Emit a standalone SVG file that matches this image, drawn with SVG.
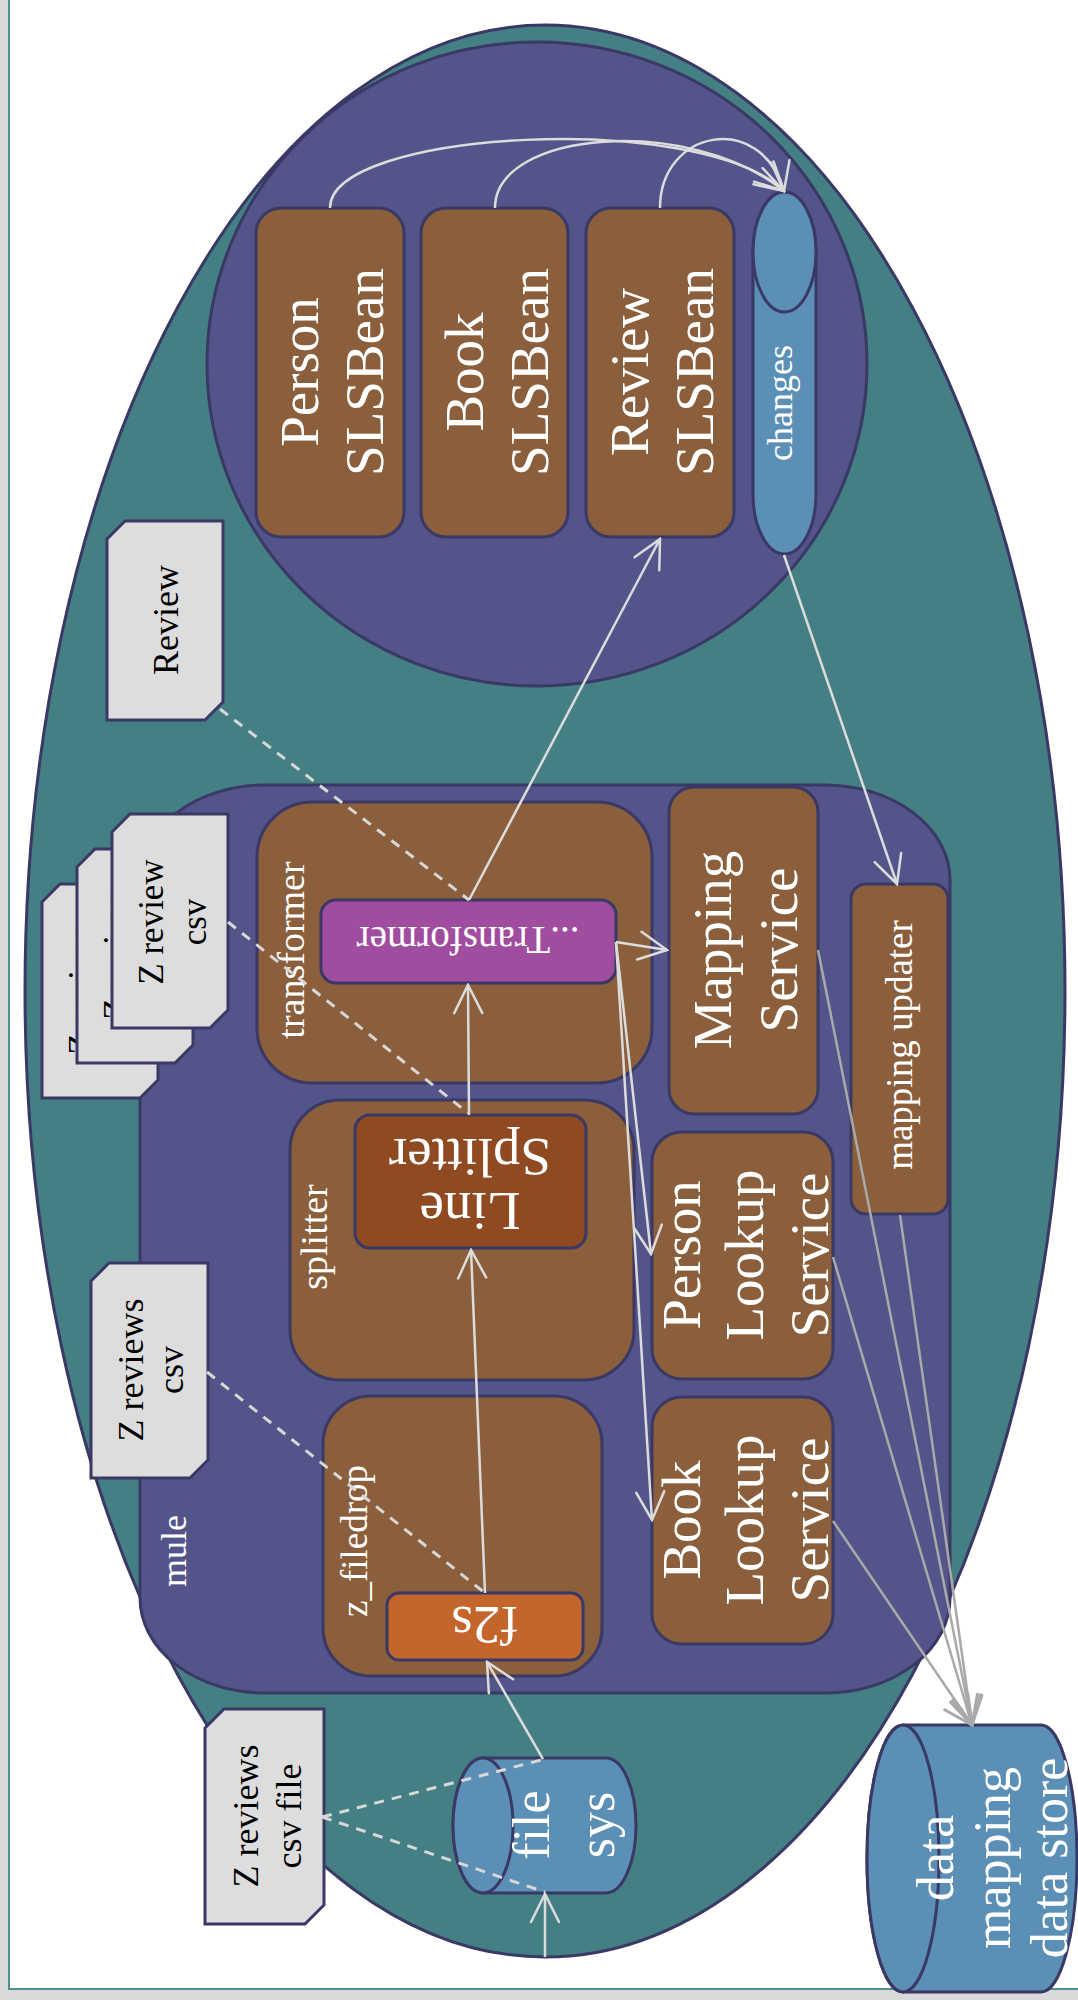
<svg xmlns="http://www.w3.org/2000/svg" width="1078" height="2000" viewBox="0 0 1078 2000">
<style>
.ln{fill:none;stroke:#3a3865;stroke-width:3}
.teal{fill:#447f84;stroke:#3a3865;stroke-width:3}
.purp{fill:#53548a;stroke:#3a3865;stroke-width:3}
.brown{fill:#8b5e3c;stroke:#3a3865;stroke-width:3}
.doc{fill:#dddddd;stroke:#3a3865;stroke-width:3}
.cyl{fill:#5b8fb5;stroke:#3a3865;stroke-width:3}
.t{font-family:"Liberation Serif","Times New Roman",serif;fill:#ffffff;text-anchor:middle}
.tb{font-family:"Liberation Serif","Times New Roman",serif;fill:#000000;text-anchor:middle}
.w{fill:none;stroke:#dcdcdc;stroke-width:2.5}
.g{fill:none;stroke:#a9a9a9;stroke-width:2.5}
.d{fill:none;stroke:#d8d8d8;stroke-width:3;stroke-dasharray:10 8}
</style>
<defs>
<marker id="aw" viewBox="0 0 32 32" refX="30" refY="16" markerWidth="32" markerHeight="32" orient="auto" markerUnits="userSpaceOnUse">
<path d="M2,2 L30,16 L2,30" fill="none" stroke="#dcdcdc" stroke-width="2.5" stroke-linecap="round"/>
</marker>
<marker id="ag" viewBox="0 0 32 32" refX="30" refY="16" markerWidth="32" markerHeight="32" orient="auto" markerUnits="userSpaceOnUse">
<path d="M2,2 L30,16 L2,30" fill="none" stroke="#a9a9a9" stroke-width="3" stroke-linecap="round"/>
</marker>
</defs>
<rect x="0" y="0" width="1078" height="2000" fill="#d9d9d9"/>
<rect x="9" y="-10" width="1080" height="1999" fill="#ffffff" stroke="#4f9090" stroke-width="2"/>

<g id="outer">
<ellipse class="teal" cx="545" cy="991" rx="520" ry="966"/>
</g>

<g id="beans">
<ellipse class="purp" cx="537" cy="364" rx="330" ry="322"/>
</g>

<g id="person-bean">
<rect class="brown" x="256" y="208" width="148" height="329" rx="25"/>
<text class="t" font-size="55" transform="translate(318,372) rotate(-90)"><tspan x="0" y="0">Person</tspan><tspan x="0" y="65">SLSBean</tspan></text>
</g>
<g id="book-bean">
<rect class="brown" x="421" y="208" width="147" height="329" rx="25"/>
<text class="t" font-size="55" transform="translate(483,372) rotate(-90)"><tspan x="0" y="0">Book</tspan><tspan x="0" y="65">SLSBean</tspan></text>
</g>
<g id="review-bean">
<rect class="brown" x="586" y="208" width="148" height="329" rx="25"/>
<text class="t" font-size="55" transform="translate(648,372) rotate(-90)"><tspan x="0" y="0">Review</tspan><tspan x="0" y="65">SLSBean</tspan></text>
</g>
<g id="changes">
<path class="cyl" d="M753,252 L753,494 A31.5,60 0 0 0 816,494 L816,252 A31.5,60 0 0 0 753,252 Z"/>
<ellipse class="cyl" cx="784.5" cy="252" rx="31.5" ry="60"/>
<text class="t" font-size="36" transform="translate(792,403) rotate(-90)">changes</text>
</g>

<g id="mule">
<rect class="purp" x="140" y="785" width="810" height="908" rx="125" ry="95"/>
<text class="t" font-size="36" transform="translate(186,1551) rotate(-90)">mule</text>
</g>

<g id="z_filedrop">
<rect class="brown" x="323" y="1396" width="279" height="280" rx="48"/>
<text class="t" font-size="37" transform="translate(367,1541) rotate(-90)">z_filedrop</text>
</g>
<g id="f2s">
<rect x="387" y="1593" width="196" height="67" rx="12" fill="#c4652c" stroke="#3a3865" stroke-width="3"/>
<text class="t" font-size="55" transform="translate(485,1626) rotate(180)" y="19">f2s</text>
</g>

<g id="splitter">
<rect class="brown" x="290" y="1100" width="344" height="280" rx="50"/>
<text class="t" font-size="38" transform="translate(327,1237) rotate(-90)">splitter</text>
</g>
<g id="line-splitter">
<rect x="355" y="1115" width="231" height="133" rx="15" fill="#8f4a22" stroke="#3a3865" stroke-width="3"/>
<text class="t" font-size="55" transform="translate(470,1181) rotate(180)"><tspan x="0" y="-12">Line</tspan><tspan x="0" y="42">Splitter</tspan></text>
</g>

<g id="transformer">
<rect class="brown" x="257" y="802" width="395" height="281" rx="55"/>
<text class="t" font-size="38" transform="translate(304,950) rotate(-90)">transformer</text>
</g>
<g id="transformer-inner">
<rect x="321" y="900" width="295" height="83" rx="15" fill="#a04da0" stroke="#3a3865" stroke-width="3"/>
<text class="t" font-size="39" transform="translate(468,941.5) rotate(180)" y="15">...Transformer</text>
</g>

<g id="mapping-service">
<rect class="brown" x="669" y="787" width="149" height="327" rx="25"/>
<text class="t" font-size="55" transform="translate(731,950) rotate(-90)"><tspan x="0" y="0">Mapping</tspan><tspan x="0" y="66">Service</tspan></text>
</g>
<g id="person-lookup">
<rect class="brown" x="652" y="1132" width="181" height="247" rx="30"/>
<text class="t" font-size="55" transform="translate(700,1255) rotate(-90)"><tspan x="0" y="0">Person</tspan><tspan x="0" y="63">Lookup</tspan><tspan x="0" y="128">Service</tspan></text>
</g>
<g id="book-lookup">
<rect class="brown" x="652" y="1397" width="181" height="247" rx="30"/>
<text class="t" font-size="55" transform="translate(700,1520) rotate(-90)"><tspan x="0" y="0">Book</tspan><tspan x="0" y="63">Lookup</tspan><tspan x="0" y="128">Service</tspan></text>
</g>
<g id="mapping-updater">
<rect class="brown" x="851" y="884" width="97" height="330" rx="15"/>
<text class="t" font-size="37" transform="translate(912,1045) rotate(-90)">mapping updater</text>
</g>

<g id="review-doc">
<path class="doc" d="M107,539 L125,521 L223,521 L223,702 L205,720 L107,720 Z"/>
<text class="tb" font-size="36" transform="translate(178,620) rotate(-90)">Review</text>
</g>
<g id="z-review-csv-stack">
<path class="doc" d="M42,902 L60,884 L158,884 L158,1080 L140,1098 L42,1098 Z"/>
<text class="tb" font-size="35" transform="translate(93,992) rotate(-90)"><tspan x="0" y="0">Z review</tspan><tspan x="0" y="43">csv</tspan></text>
<path class="doc" d="M77,867 L95,849 L193,849 L193,1045 L175,1063 L77,1063 Z"/>
<text class="tb" font-size="35" transform="translate(128,957) rotate(-90)"><tspan x="0" y="0">Z review</tspan><tspan x="0" y="43">csv</tspan></text>
<path class="doc" d="M112,832 L130,814 L228,814 L228,1010 L210,1028 L112,1028 Z"/>
<text class="tb" font-size="35" transform="translate(163,922) rotate(-90)"><tspan x="0" y="0">Z review</tspan><tspan x="0" y="43">csv</tspan></text>
</g>
<g id="z-reviews-csv">
<path class="doc" d="M91,1281 L109,1263 L208,1263 L208,1460 L190,1478 L91,1478 Z"/>
<text class="tb" font-size="36" transform="translate(143,1370) rotate(-90)"><tspan x="0" y="0">Z reviews</tspan><tspan x="0" y="40">csv</tspan></text>
</g>
<g id="z-reviews-csv-file">
<path class="doc" d="M205,1728 L224,1709 L324,1709 L324,1905 L305,1924 L205,1924 Z"/>
<text class="tb" font-size="36" transform="translate(258,1816) rotate(-90)"><tspan x="0" y="0">Z reviews</tspan><tspan x="0" y="43">csv file</tspan></text>
</g>

<g id="file-sys">
<path class="cyl" d="M483,1758 L606,1758 A30,67.5 0 0 1 606,1893 L483,1893 A30,67.5 0 0 1 483,1758 Z"/>
<ellipse class="cyl" cx="483" cy="1825.5" rx="30" ry="67.5"/>
<text class="t" font-size="52" transform="translate(549,1825) rotate(-90)"><tspan x="0" y="0">file</tspan><tspan x="0" y="65">sys</tspan></text>
</g>
<g id="data-store">
<path class="cyl" d="M903,1725 L1041,1725 A36,133.5 0 0 1 1041,1992 L903,1992 A36,133.5 0 0 1 903,1725 Z"/>
<ellipse class="cyl" cx="903" cy="1858.5" rx="36" ry="133.5"/>
<text class="t" font-size="52" transform="translate(953,1858) rotate(-90)"><tspan x="0" y="0">data</tspan><tspan x="0" y="57">mapping</tspan><tspan x="0" y="114">data store</tspan></text>
</g>

<g id="connectors">
<path class="w" d="M545,1957 L545,1894" marker-end="url(#aw)"/>
<path class="w" d="M543,1759 L487,1662" marker-end="url(#aw)"/>
<path class="w" d="M485,1593 L471,1250" marker-end="url(#aw)"/>
<path class="w" d="M469,1115 L468,985" marker-end="url(#aw)"/>
<path class="w" d="M469,900 L660,539" marker-end="url(#aw)"/>
<path class="w" d="M616,942 L667,950" marker-end="url(#aw)"/>
<path class="w" d="M616,942 L651,1254" marker-end="url(#aw)"/>
<path class="w" d="M616,942 L652,1520" marker-end="url(#aw)"/>
<path class="w" d="M784,555 L897,884" marker-end="url(#aw)"/>
<path class="w" d="M330,208 C330,130 700,110 784,191" marker-end="url(#aw)"/>
<path class="w" d="M495,208 C495,130 690,115 784,191" marker-end="url(#aw)"/>
<path class="w" d="M660,208 C660,130 760,110 784,191" marker-end="url(#aw)"/>
<path class="g" d="M818,950 L972,1725" marker-end="url(#ag)"/>
<path class="g" d="M833,1257 L972,1725" marker-end="url(#ag)"/>
<path class="g" d="M833,1521 L972,1725" marker-end="url(#ag)"/>
<path class="g" d="M900,1215 L972,1725" marker-end="url(#ag)"/>
<path class="d" d="M220,709 L469,900"/>
<path class="d" d="M228,922 L468,1113"/>
<path class="d" d="M207,1372 L485,1593"/>
<path class="d" d="M322,1817 L545,1759"/>
<path class="d" d="M322,1817 L545,1892"/>
</g>
</svg>
